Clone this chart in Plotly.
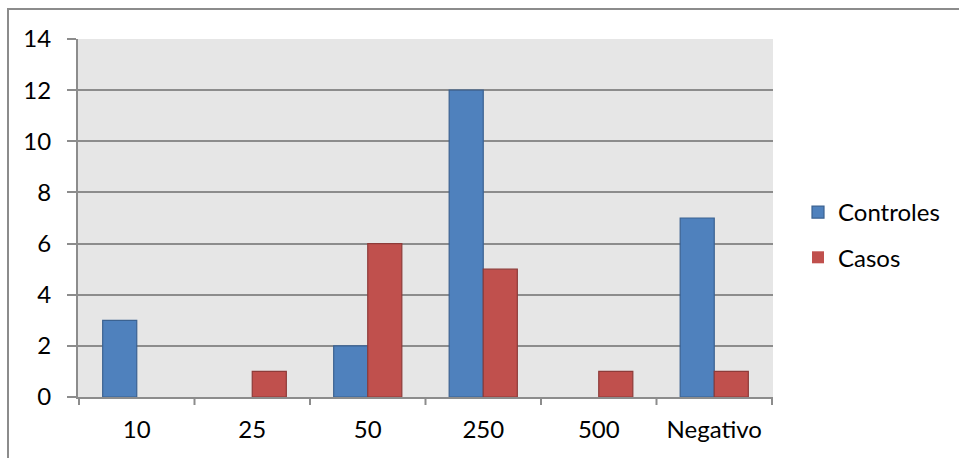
import plotly.graph_objects as go

categories = ["10", "25", "50", "250", "500", "Negativo"]
controles = [3, 0, 2, 12, 0, 7]
casos = [0, 1, 6, 5, 1, 1]
y_ticks = [0, 2, 4, 6, 8, 10, 12, 14]

W, H = 959, 458
L, R, T, B = 78, 186, 39, 61
pw, ph = W - L - R, H - T - B

def px_x(x):
    return (x - L) / pw

def px_y(y):
    return (H - B - y) / ph

family = "Lato, Carlito, 'Open Sans', sans-serif"
font = dict(family=family, size=24, color="#000000")

def outline(values, width=1.2):
    # no outline for empty bars so zero values leave no sliver
    return [width if v else 0 for v in values]

fig = go.Figure()
fig.add_trace(go.Bar(
    x=categories, y=controles, name="Controles", legendgroup="a",
    marker=dict(color="#4f81bd",
                line=dict(color="#3b6291", width=outline(controles))),
))
fig.add_trace(go.Bar(
    x=categories, y=casos, name="Casos", legendgroup="b",
    marker=dict(color="#c0504d",
                line=dict(color="#8e3b39", width=outline(casos))),
))

fig.update_layout(
    width=W, height=H,
    margin=dict(l=L, r=R, t=T, b=B),
    paper_bgcolor="white",
    plot_bgcolor="#e6e6e6",
    barmode="group",
    bargap=0.41,
    bargroupgap=0,
    font=font,
    showlegend=True,
    legend=dict(
        x=px_x(798), y=px_y(190), xanchor="left", yanchor="top",
        font=dict(family=family, size=24, color="#000000"),
        bgcolor="rgba(0,0,0,0)",
        traceorder="grouped", tracegroupgap=11, itemwidth=30,
    ),
    xaxis=dict(
        type="category",
        showgrid=False,
        showline=True, linecolor="#8c8c8c", linewidth=2,
        ticks="", tickfont=font,
        ticklabelstandoff=10,
    ),
    yaxis=dict(
        range=[0, 14], tickvals=y_ticks,
        showgrid=True, gridcolor="#8c8c8c", gridwidth=2,
        showline=True, linecolor="#8c8c8c", linewidth=2,
        ticks="outside", ticklen=9, tickwidth=2, tickcolor="#8c8c8c",
        tickfont=font,
        zeroline=False,
        ticklabelstandoff=11,
    ),
    shapes=[
        dict(type="rect", xref="paper", yref="paper",
             x0=px_x(8), x1=px_x(965), y0=px_y(470), y1=px_y(9),
             line=dict(color="#8c8c8c", width=2), fillcolor="rgba(0,0,0,0)",
             layer="below"),
    ],
)

# category boundary tick marks below the x axis
for i in range(len(categories) + 1):
    fig.add_shape(
        type="line", xref="x", yref="paper",
        x0=i - 0.5, x1=i - 0.5, y0=0, y1=-8 / ph,
        line=dict(color="#8c8c8c", width=2),
    )

fig.write_html("out.html")
